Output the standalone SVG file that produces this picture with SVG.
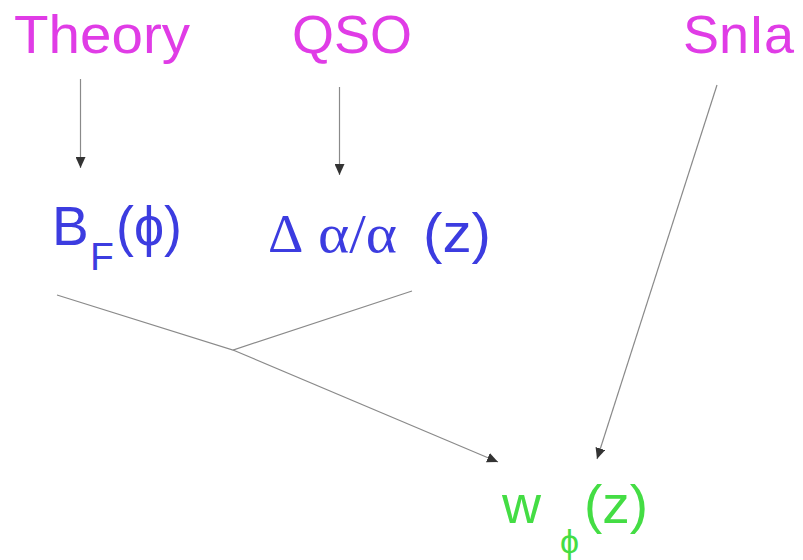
<svg xmlns="http://www.w3.org/2000/svg" width="803" height="560" viewBox="0 0 803 560">
<style>
.src{font-family:"Liberation Sans",Arial,sans-serif;font-size:54px;fill:#e03ce6}
.mid{font-family:"Liberation Sans",Arial,sans-serif;font-size:55px;fill:#3c3ce0}
.grk{font-family:"Liberation Serif","DejaVu Serif",serif}
.out{font-family:"Liberation Sans",Arial,sans-serif;font-size:54px;fill:#44dd44}
.ln{stroke:#8a8a8a;stroke-width:1.2;fill:none}
.ar{marker-end:url(#ah)}
</style>
<defs>
<marker id="ah" markerUnits="userSpaceOnUse" markerWidth="12" markerHeight="10" refX="11" refY="5" orient="auto">
<path d="M0,0 L11,5 L0,10 Z" fill="#333"/>
</marker>
</defs>
<rect width="803" height="560" fill="#ffffff"/>
<g id="theory"><text class="src" x="14" y="53" textLength="176" lengthAdjust="spacingAndGlyphs">Theory</text></g>
<g id="qso"><text class="src" x="292" y="53">QSO</text></g>
<g id="snia"><text class="src" x="683" y="53">SnIa</text></g>
<g id="bf"><text class="mid" x="52" y="245">B<tspan font-size="39" x="90" y="270">F</tspan><tspan x="116" y="245" textLength="66" lengthAdjust="spacingAndGlyphs">(ϕ)</tspan></text></g>
<g id="dalpha"><text class="mid" y="252"><tspan class="grk" x="268">Δ</tspan><tspan class="grk" x="318" textLength="79" lengthAdjust="spacingAndGlyphs">α/α</tspan><tspan x="423" textLength="68" lengthAdjust="spacingAndGlyphs">(z)</tspan></text></g>
<g id="wphi"><text class="out" x="502" y="523">w<tspan font-size="34" x="560" y="553">ϕ</tspan><tspan x="584" y="523" textLength="64" lengthAdjust="spacingAndGlyphs">(z)</tspan></text></g>
<g id="connectors">
<line class="ln ar" x1="80.5" y1="79" x2="80.5" y2="168"/>
<line class="ln ar" x1="339.5" y1="87" x2="339.5" y2="175"/>
<line class="ln ar" x1="717" y1="85" x2="597" y2="459"/>
<polyline class="ln" points="57,295 233,350 412,291"/>
<line class="ln ar" x1="233" y1="350" x2="498" y2="462"/>
</g>
</svg>
